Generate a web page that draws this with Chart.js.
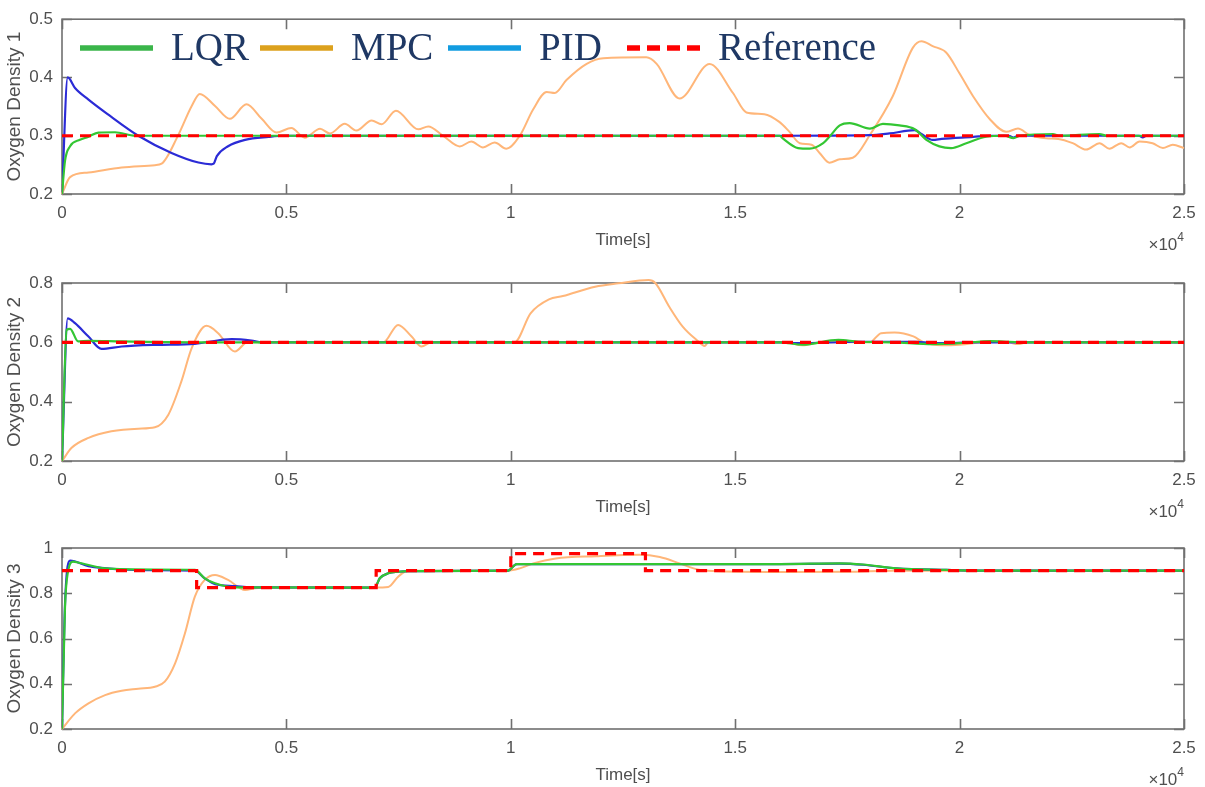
<!DOCTYPE html>
<html>
<head>
<meta charset="utf-8">
<title>Oxygen Density</title>
<script src="https://cdn.jsdelivr.net/npm/chart.js@4.4.0/dist/chart.umd.min.js"></script>
<style>
  html, body { margin: 0; padding: 0; background: #fff; }
  body { width: 1205px; height: 787px; position: relative; overflow: hidden; }
  canvas { position: absolute; left: 0; }
</style>
</head>
<body>
<canvas id="od1" width="1205" height="252" style="top:0px"></canvas>
<canvas id="od2" width="1205" height="267" style="top:252px"></canvas>
<canvas id="od3" width="1205" height="268" style="top:519px"></canvas>
<script>
// time in seconds, densities as plotted

// ---- Oxygen Density 1 ----
const ref1T = [0, 25000];
const ref1 = [0.3, 0.3];

const lqr1T = [0, 67, 180, 400, 580, 810, 1180, 1630, 15990, 16060, 16400, 16660, 16960, 17100, 17330, 17550, 18000, 18290, 18660, 19000, 19260, 19550, 19810, 20150, 20590, 21000, 21200, 21350, 22080, 22200, 23120, 23270, 25000];
const lqr1 = [0.2, 0.257, 0.282, 0.293, 0.298, 0.3055, 0.306, 0.3, 0.3, 0.2955, 0.2788, 0.2778, 0.2872, 0.2983, 0.3178, 0.3217, 0.3122, 0.3205, 0.3178, 0.3112, 0.2928, 0.2817, 0.2788, 0.2872, 0.2983, 0.3, 0.296, 0.3, 0.303, 0.3, 0.303, 0.3, 0.3];

const pid1T = [0, 127, 290, 590, 1000, 1700, 2440, 3040, 3330, 3380, 3450, 3700, 4080, 4600, 5000, 16000, 18000, 18440, 19000, 19150, 19400, 19600, 20300, 20670, 21100, 21200, 21300, 24000, 24080, 24160, 25000];
const pid1 = [0.2, 0.4, 0.382, 0.362, 0.338, 0.3, 0.2705, 0.254, 0.251, 0.252, 0.265, 0.282, 0.293, 0.298, 0.3, 0.3, 0.301, 0.304, 0.3095, 0.303, 0.2928, 0.2945, 0.298, 0.3, 0.3, 0.297, 0.3, 0.3, 0.297, 0.3, 0.3];

const mpc1T = [0, 180, 590, 1330, 2070, 2220, 2590, 2890, 3070, 3410, 3740, 4110, 4450, 4780, 5110, 5410, 5750, 5970, 6300, 6560, 6900, 7120, 7440, 7940, 8160, 8490, 8860, 9120, 9380, 9640, 9900, 10200, 10500, 10800, 10980, 11240, 11690, 12060, 13020, 13250, 13760, 14430, 14950, 15250, 15650, 15990, 16210, 16440, 16700, 16880, 17100, 17330, 17620, 18000, 18510, 18960, 19150, 19400, 19700, 20000, 20300, 20670, 21040, 21300, 21560, 21930, 22200, 22520, 22820, 23120, 23340, 23600, 23790, 24010, 24300, 24530, 24750, 25000];
const mpc1 = [0.2, 0.229, 0.237, 0.2455, 0.2495, 0.252, 0.301, 0.351, 0.3717, 0.351, 0.329, 0.354, 0.329, 0.3055, 0.3133, 0.2967, 0.312, 0.304, 0.3205, 0.309, 0.3262, 0.3195, 0.343, 0.311, 0.316, 0.3, 0.2817, 0.29, 0.28, 0.2883, 0.2778, 0.3, 0.3455, 0.375, 0.3733, 0.3955, 0.4233, 0.4328, 0.4345, 0.4233, 0.3638, 0.4233, 0.3733, 0.34, 0.337, 0.3233, 0.3067, 0.2872, 0.2845, 0.2705, 0.2538, 0.2595, 0.2622, 0.3012, 0.3678, 0.4512, 0.4622, 0.4538, 0.4428, 0.4067, 0.3678, 0.3288, 0.3067, 0.3122, 0.3012, 0.2955, 0.2945, 0.2872, 0.2762, 0.2872, 0.2778, 0.2872, 0.28, 0.29, 0.2872, 0.2788, 0.2845, 0.2788];

// ---- Oxygen Density 2 ----
const ref2T = [0, 25000];
const ref2 = [0.6, 0.6];

const lqr2T = [0, 104, 180, 360, 590, 1330, 3000, 16000, 16500, 17300, 17750, 18500, 19400, 20000, 20700, 21100, 21500, 25000];
const lqr2 = [0.2, 0.642, 0.6455, 0.603, 0.605, 0.603, 0.6, 0.6, 0.592, 0.608, 0.602, 0.6, 0.594, 0.597, 0.604, 0.602, 0.6, 0.6];

const pid2T = [0, 127, 290, 590, 880, 1330, 2070, 2960, 3780, 4220, 4450, 16000, 16400, 17800, 19000, 19600, 20300, 25000];
const pid2 = [0.2, 0.681, 0.6645, 0.6195, 0.578, 0.586, 0.5915, 0.595, 0.611, 0.606, 0.6, 0.6, 0.597, 0.602, 0.602, 0.597, 0.6, 0.6];

const mpc2T = [0, 215, 590, 1100, 1700, 2070, 2370, 2660, 2890, 3220, 3480, 3850, 4150, 4400, 7160, 7490, 7790, 8010, 8230, 10080, 10440, 10850, 11160, 11880, 12400, 13070, 13220, 13530, 13830, 14140, 14320, 14400, 16100, 16500, 16900, 18000, 18250, 18550, 18970, 19200, 19600, 20000, 20700, 21100, 21300, 21500, 25000];
const mpc2 = [0.2, 0.2445, 0.278, 0.3, 0.309, 0.3137, 0.3563, 0.4683, 0.5805, 0.6555, 0.631, 0.569, 0.6027, 0.6, 0.6, 0.6588, 0.6195, 0.586, 0.6, 0.6, 0.698, 0.745, 0.756, 0.7877, 0.799, 0.81, 0.8, 0.72, 0.653, 0.608, 0.588, 0.6, 0.6, 0.59, 0.6, 0.6, 0.631, 0.633, 0.62, 0.6, 0.59, 0.592, 0.603, 0.6, 0.594, 0.6, 0.6];

// ---- Oxygen Density 3 ----
const ref3T = [0, 3000, 7000, 10000, 13000, 25000];
const ref3 = [0.9, 0.825, 0.9, 0.975, 0.9, 0.9];

const lqr3T = [0, 67, 127, 250, 360, 960, 2070, 2960, 3180, 3410, 3850, 6970, 7080, 7270, 7490, 7700, 9940, 10130, 16000, 17330, 17850, 18590, 19700, 20500, 25000];
const lqr3 = [0.2, 0.74, 0.888, 0.9395, 0.936, 0.91, 0.905, 0.903, 0.866, 0.844, 0.826, 0.825, 0.866, 0.888, 0.895, 0.898, 0.9, 0.929, 0.929, 0.932, 0.927, 0.91, 0.903, 0.9, 0.9];

const pid3T = [0, 67, 180, 590, 1330, 2070, 2960, 3180, 3410, 3850, 4200, 6970, 7080, 7270, 7490, 7700, 9940, 10130, 16000, 17330, 17850, 18590, 19700, 20500, 25000];
const pid3 = [0.2, 0.75, 0.944, 0.92, 0.905, 0.902, 0.9, 0.866, 0.84, 0.832, 0.826, 0.825, 0.866, 0.888, 0.895, 0.898, 0.9, 0.929, 0.929, 0.931, 0.926, 0.91, 0.903, 0.9, 0.9];

const mpc3T = [0, 290, 590, 960, 1330, 1700, 2070, 2290, 2520, 2740, 2960, 3180, 3410, 3700, 4080, 4300, 4600, 6970, 7270, 7490, 7640, 7900, 9940, 10200, 10500, 11000, 11900, 12870, 13320, 13760, 14140, 14500, 16000, 17500, 18500, 25000];
const mpc3 = [0.2, 0.269, 0.3135, 0.35, 0.369, 0.378, 0.387, 0.409, 0.49, 0.623, 0.785, 0.859, 0.881, 0.859, 0.814, 0.822, 0.825, 0.825, 0.828, 0.873, 0.895, 0.9, 0.9, 0.91, 0.932, 0.954, 0.964, 0.97, 0.96, 0.932, 0.906, 0.898, 0.894, 0.895, 0.9, 0.9];

const legendNames = ['LQR', 'MPC', 'PID', 'Reference'];
const legendColors = ['#3ab54a', '#dca11d', '#129ce0', '#ff0000'];

const axisGrey = '#4f4f4f';
const sans = "'Liberation Sans', Arial, Helvetica, sans-serif";

const xy = (ts, vs) => ts.map((t, i) => ({ x: t, y: vs[i] }));

// box round the plot area with short inward ticks on all four sides
const boxAxes = {
  id: 'boxAxes',
  beforeDatasetsDraw(chart) {
    const { ctx, chartArea: a, scales: { x, y } } = chart;
    const len = 10;
    ctx.save();
    ctx.strokeStyle = '#707070';
    ctx.lineWidth = 1.6;
    ctx.strokeRect(a.left, a.top, a.right - a.left, a.bottom - a.top);
    ctx.beginPath();
    x.ticks.forEach(t => {
      const px = Math.round(x.getPixelForValue(t.value)) + 0.5;
      ctx.moveTo(px, a.bottom); ctx.lineTo(px, a.bottom - len);
      ctx.moveTo(px, a.top); ctx.lineTo(px, a.top + len);
    });
    y.ticks.forEach(t => {
      const py = Math.round(y.getPixelForValue(t.value)) + 0.5;
      ctx.moveTo(a.left, py); ctx.lineTo(a.left + len, py);
      ctx.moveTo(a.right, py); ctx.lineTo(a.right - len, py);
    });
    ctx.stroke();
    ctx.restore();
  },
  // x10^4 exponent under the right end of the time axis
  afterDraw(chart) {
    const { ctx, chartArea: a } = chart;
    ctx.save();
    ctx.fillStyle = axisGrey;
    ctx.textAlign = 'right';
    ctx.textBaseline = 'middle';
    ctx.font = '12px ' + sans;
    ctx.fillText('4', a.right, a.bottom + 44);
    const w4 = ctx.measureText('4').width;
    ctx.font = '17px ' + sans;
    ctx.fillText('\u00d710', a.right - w4, a.bottom + 51);
    ctx.restore();
  }
};

// legend drawn inside the first plot
const innerLegend = {
  id: 'innerLegend',
  afterDraw(chart) {
    const { ctx } = chart;
    const starts = [80, 260, 448, 627];
    ctx.save();
    legendNames.forEach((name, i) => {
      const x0 = starts[i];
      ctx.beginPath();
      ctx.strokeStyle = legendColors[i];
      ctx.lineWidth = 5.5;
      ctx.setLineDash(name === 'Reference' ? [13, 7] : []);
      ctx.moveTo(x0, 48);
      ctx.lineTo(x0 + 73, 48);
      ctx.stroke();
      ctx.setLineDash([]);
      ctx.fillStyle = '#1f3864';
      ctx.font = "39px 'Liberation Serif', 'Times New Roman', serif";
      ctx.textBaseline = 'alphabetic';
      ctx.textAlign = 'left';
      ctx.fillText(name, x0 + 91, 60);
    });
    ctx.restore();
  }
};

function makePanel(id, yTitle, yMin, yMax, yStep, topPad, series, extraPlugins) {
  const [refT, ref, lqrT, lqr, pidT, pid, mpcT, mpc] = series;
  return new Chart(document.getElementById(id), {
    type: 'line',
    data: {
      datasets: [
        // setpoint holds its value until the next switch time
        { label: 'Reference', data: xy(refT, ref), borderColor: '#ff0000', borderWidth: 3.2, borderDash: [11, 7], stepped: 'before', order: 0 },
        { label: 'LQR', data: xy(lqrT, lqr), borderColor: '#33c633', borderWidth: 2.2, cubicInterpolationMode: 'monotone', order: 1 },
        { label: 'PID', data: xy(pidT, pid), borderColor: '#2b2bd6', borderWidth: 2.2, cubicInterpolationMode: 'monotone', order: 2 },
        { label: 'MPC', data: xy(mpcT, mpc), borderColor: '#ffb679', borderWidth: 2, cubicInterpolationMode: 'monotone', order: 3, clip: 8 },
      ],
    },
    options: {
      responsive: false,
      animation: false,
      events: [],
      layout: { padding: { top: topPad, right: 21, bottom: 0, left: 0 } },
      elements: { point: { radius: 0 } },
      plugins: { legend: { display: false }, tooltip: { enabled: false } },
      scales: {
        x: {
          type: 'linear',
          min: 0,
          max: 25000,
          grid: { display: false, drawTicks: false },
          border: { display: false },
          ticks: {
            stepSize: 5000,
            maxRotation: 0,
            padding: 9,
            color: axisGrey,
            font: { family: sans, size: 17 },
            callback: v => String(v / 10000),
          },
          title: {
            display: true,
            text: 'Time[s]',
            color: axisGrey,
            font: { family: sans, size: 17 },
            padding: { top: 0, bottom: 1 },
          },
          afterFit(scale) { scale.height = 58; },
        },
        y: {
          min: yMin,
          max: yMax,
          grid: { display: false, drawTicks: false },
          border: { display: false },
          ticks: {
            stepSize: yStep,
            padding: 9,
            color: axisGrey,
            font: { family: sans, size: 17 },
            callback: v => String(Number(v.toFixed(2))),
          },
          title: {
            display: true,
            text: yTitle,
            color: axisGrey,
            font: { family: sans, size: 19 },
            padding: { top: 3, bottom: 0 },
          },
          afterFit(scale) { scale.width = 62; },
        },
      },
    },
    plugins: [boxAxes].concat(extraPlugins || []),
  });
}

makePanel('od1', 'Oxygen Density 1', 0.2, 0.5, 0.1, 14,
  [ref1T, ref1, lqr1T, lqr1, pid1T, pid1, mpc1T, mpc1], [innerLegend]);
makePanel('od2', 'Oxygen Density 2', 0.2, 0.8, 0.2, 31,
  [ref2T, ref2, lqr2T, lqr2, pid2T, pid2, mpc2T, mpc2]);
makePanel('od3', 'Oxygen Density 3', 0.2, 1, 0.2, 29,
  [ref3T, ref3, lqr3T, lqr3, pid3T, pid3, mpc3T, mpc3]);
</script>
</body>
</html>
